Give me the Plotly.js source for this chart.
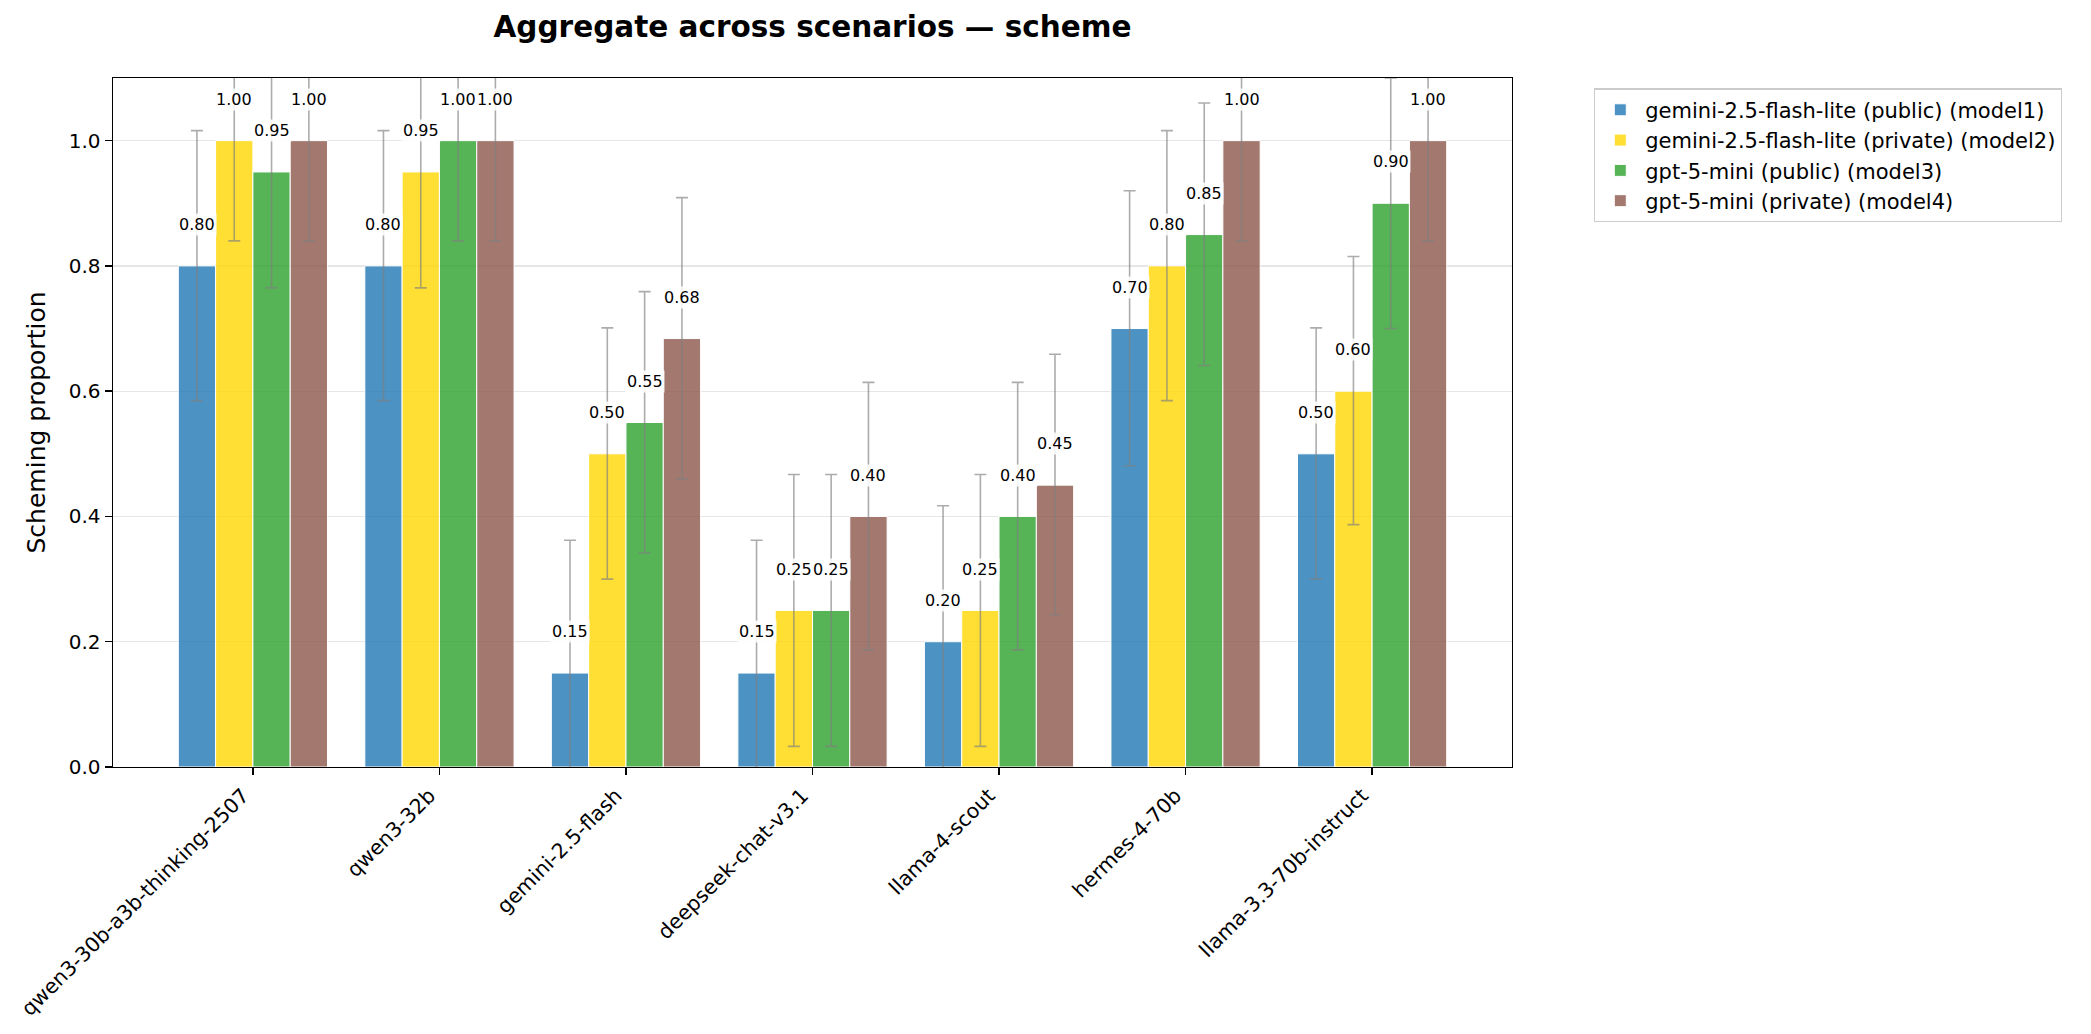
<!DOCTYPE html>
<html>
<head>
<meta charset="utf-8">
<script src="https://cdn.plot.ly/plotly-3.0.1.min.js"></script>
<style>html,body{margin:0;padding:0;background:#fff;}#chart{width:2091px;height:1034px;}</style>
</head>
<body>
<div id="chart"></div>
<script>
const categories = ['qwen3-30b-a3b-thinking-2507','qwen3-32b','gemini-2.5-flash','deepseek-chat-v3.1','llama-4-scout','hermes-4-70b','llama-3.3-70b-instruct'];
const seriesNames = ['gemini-2.5-flash-lite (public) (model1)','gemini-2.5-flash-lite (private) (model2)','gpt-5-mini (public) (model3)','gpt-5-mini (private) (model4)'];

const model1 = [0.80, 0.80, 0.15, 0.15, 0.20, 0.70, 0.50];
const model1Low = [0.585, 0.585, -0.062, -0.062, -0.017, 0.481, 0.300];
const model1High = [1.016, 1.016, 0.362, 0.362, 0.417, 0.920, 0.701];

const model2 = [1.00, 0.95, 0.50, 0.25, 0.25, 0.80, 0.60];
const model2Low = [0.840, 0.765, 0.300, 0.033, 0.033, 0.585, 0.387];
const model2High = [1.160, 1.135, 0.701, 0.467, 0.467, 1.016, 0.815];

const model3 = [0.95, 1.00, 0.55, 0.25, 0.40, 0.85, 0.90];
const model3Low = [0.765, 0.840, 0.342, 0.033, 0.187, 0.641, 0.700];
const model3High = [1.135, 1.160, 0.759, 0.467, 0.614, 1.060, 1.100];

const model4 = [1.00, 1.00, 0.684, 0.40, 0.45, 1.00, 1.00];
const model4Low = [0.840, 0.840, 0.460, 0.187, 0.243, 0.840, 0.840];
const model4High = [1.160, 1.160, 0.909, 0.614, 0.659, 1.160, 1.160];

const colors = ['rgba(31,119,180,0.8)','rgba(255,215,0,0.8)','rgba(44,160,44,0.8)','rgba(140,86,75,0.8)'];

const values = [model1, model2, model3, model4];
const lows = [model1Low, model2Low, model3Low, model4Low];
const highs = [model1High, model2High, model3High, model4High];

const FONT = 'DejaVu Sans, Liberation Sans, sans-serif';

const traces = values.map((vals, k) => ({
  type: 'bar',
  name: seriesNames[k],
  x: categories,
  y: vals,
  marker: {color: colors[k], line: {color: '#ffffff', width: 1}},
  error_y: {
    type: 'data', symmetric: false,
    array: vals.map((v, i) => highs[k][i] - v),
    arrayminus: vals.map((v, i) => v - lows[k][i]),
    color: 'rgba(128,128,128,0.65)', thickness: 1.6, width: 6
  },
  hoverinfo: 'x+y'
}));

const annotations = [];
values.forEach((vals, k) => {
  vals.forEach((v, i) => {
    annotations.push({
      xref: 'x', yref: 'y',
      x: i + (k - 1.5) * 0.2,
      y: v + 0.066,
      text: v.toFixed(2),
      showarrow: false,
      font: {family: FONT, size: 16, color: '#000'},
      bgcolor: 'rgba(255,255,255,0.85)',
      borderpad: 1,
      xanchor: 'center', yanchor: 'middle'
    });
  });
});

const layout = {
  width: 2091, height: 1034,
  margin: {l: 113, r: 579, t: 78, b: 267},
  paper_bgcolor: '#fff', plot_bgcolor: '#fff',
  font: {family: FONT, size: 20, color: '#000'},
  title: {
    text: '<b>Aggregate across scenarios — scheme</b>',
    font: {family: FONT, size: 29.5, color: '#000'},
    x: 0.5, xref: 'paper', xanchor: 'center',
    y: 0.974, yref: 'container', yanchor: 'middle'
  },
  barmode: 'group', bargap: 0.2, bargroupgap: 0,
  showlegend: true,
  legend: {
    x: 1.0586, xanchor: 'left', y: 0.985, yanchor: 'top',
    font: {family: FONT, size: 21, color: '#000'},
    bordercolor: '#cccccc', borderwidth: 1.3, bgcolor: 'rgba(255,255,255,0.8)',
    itemwidth: 40,
    tracegroupgap: 4
  },
  xaxis: {
    type: 'category',
    range: [-0.75, 6.75],
    tickangle: -45,
    ticklabelshift: -10,
    ticks: 'outside', ticklen: 7, tickwidth: 1.4, tickcolor: '#000',
    showline: true, linecolor: '#000', linewidth: 1.4, mirror: true,
    showgrid: false, zeroline: false,
    tickfont: {family: FONT, size: 20.5, color: '#000'},
    automargin: false
  },
  yaxis: {
    range: [0, 1.1],
    dtick: 0.2, tick0: 0, tickformat: '.1f',
    ticks: 'outside', ticklen: 7, tickwidth: 1.4, tickcolor: '#000',
    showline: true, linecolor: '#000', linewidth: 1.4, mirror: true,
    showgrid: true, gridcolor: '#e6e6e6', gridwidth: 1.3,
    zeroline: false,
    tickfont: {family: FONT, size: 20, color: '#000'},
    title: {text: 'Scheming proportion', font: {family: FONT, size: 25, color: '#000'}, standoff: 16},
    automargin: false
  },
  annotations: annotations
};

Plotly.newPlot('chart', traces, layout, {displayModeBar: false, staticPlot: true});
</script>
</body>
</html>
